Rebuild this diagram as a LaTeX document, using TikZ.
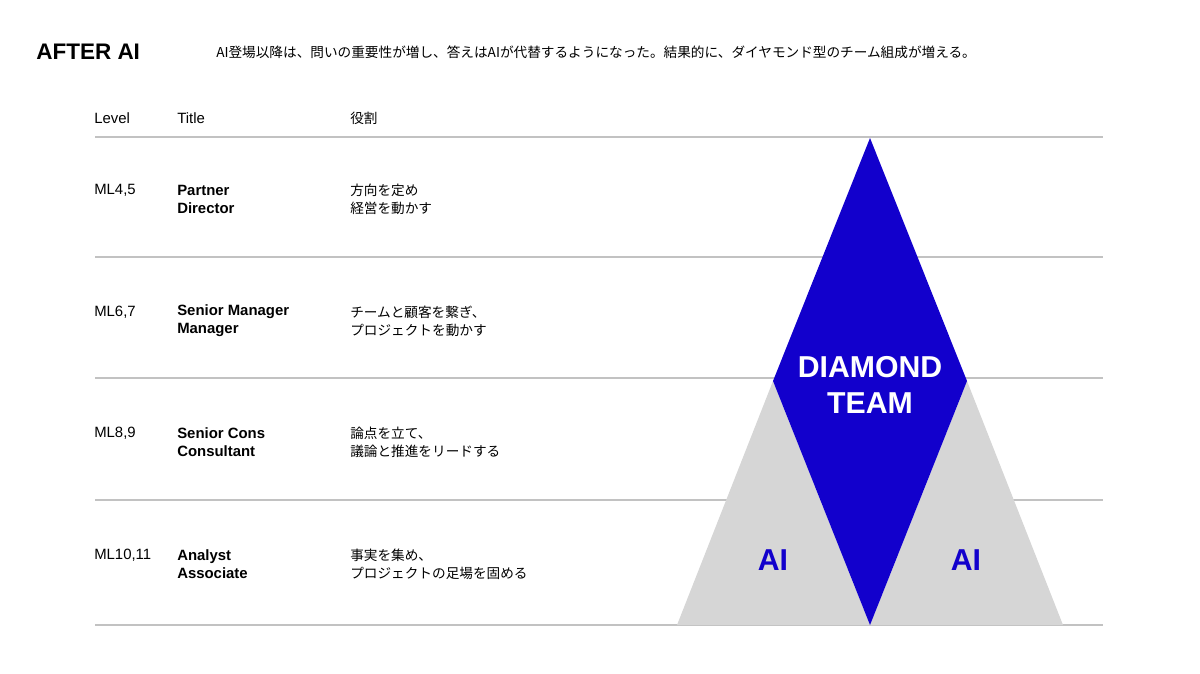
\documentclass[tikz,border=0pt]{standalone}
\usepackage{fontspec}
\setmainfont{Noto Sans CJK JP}[BoldFont={* Bold}]
\newfontfamily\latin{Liberation Sans}
\usepackage{xcolor}
\definecolor{diablue}{HTML}{1200CC}
\definecolor{aigray}{HTML}{D6D6D6}
\definecolor{rulegray}{HTML}{C2C2C2}

\begin{document}
\begin{tikzpicture}[x=0.025cm, y=-0.025cm,
    rule/.style={draw=rulegray, line width=1.1pt},
    txt/.style={anchor=west, inner sep=0pt, align=left, font=\fontsize{9.7pt}{12.8pt}\selectfont},
    lat/.style={txt, font=\latin\fontsize{10.6pt}{12.8pt}\selectfont},
    ttl/.style={txt, font=\latin\fontsize{10.6pt}{12.8pt}\selectfont\bfseries},
    big/.style={inner sep=0pt, align=center, font=\latin\fontsize{21.5pt}{25.6pt}\selectfont\bfseries}]
      % \draw[help lines, gray!50, very thin] (0,0) grid (1200,673);
      \useasboundingbox (0,0) rectangle (1200,673);

      \foreach \y in {137,257,378,500,625}
        \draw[rule] (95,\y) -- (1103,\y);

      \fill[aigray] (677,625) -- (773,381) -- (870,625) -- cycle;
      \fill[aigray] (870,625) -- (967,381) -- (1063,625) -- cycle;
      \fill[diablue] (870,138) -- (967,381) -- (870,625) -- (773,381) -- cycle;

      \node[anchor=west, inner sep=0pt, font=\latin\fontsize{16pt}{18pt}\selectfont\bfseries] (head) at (36,52) {AFTER AI};
      \node[txt] (lead) at (216,52) {AI登場以降は、問いの重要性が増し、答えはAIが代替するようになった。結果的に、ダイヤモンド型のチーム組成が増える。};

      \node[lat] (hlevel) at (94,118) {Level};
      \node[lat] (htitle) at (177,118) {Title};
      \node[txt] (hrole) at (350,118) {役割};

      \node[lat] (lv1) at (94,190) {ML4,5};
      \node[ttl] (ti1) at (177,199) {Partner\\Director};
      \node[txt] (ro1) at (350,199) {方向を定め\\経営を動かす};

      \node[lat] (lv2) at (94,312) {ML6,7};
      \node[ttl] (ti2) at (177,321) {Senior Manager\\Manager};
      \node[txt] (ro2) at (350,321) {チームと顧客を繋ぎ、\\プロジェクトを動かす};

      \node[lat] (lv3) at (94,433) {ML8,9};
      \node[ttl] (ti3) at (177,442) {Senior Cons\\Consultant};
      \node[txt] (ro3) at (350,442) {論点を立て、\\議論と推進をリードする};

      \node[lat] (lv4) at (94,555) {ML10,11};
      \node[ttl] (ti4) at (177,564) {Analyst\\Associate};
      \node[txt] (ro4) at (350,564) {事実を集め、\\プロジェクトの足場を固める};

      \node[big, text=white] (dmd) at (870,385) {DIAMOND\\TEAM};
      \node[big, text=diablue] (ail) at (773,560) {AI};
      \node[big, text=diablue] (air) at (966,560) {AI};
\end{tikzpicture}
\end{document}
